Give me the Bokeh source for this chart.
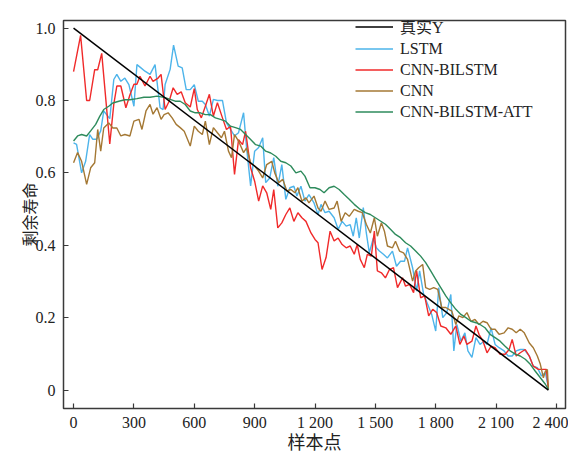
from bokeh.plotting import figure
from bokeh.models import Legend, LegendItem, FixedTicker, CustomJSTickFormatter, Range1d
from bokeh.embed import file_html
from bokeh.resources import INLINE

# ---- data ----
true_x = [0, 2360]
true_y = [1.0, 0.0]

lstm_x = [0, 15, 40, 60, 80, 95, 115, 135, 150, 180, 200, 215, 235, 255, 275, 300, 315, 335, 355, 380,
          405, 430, 445, 455, 480, 497, 520, 540, 560, 580, 600, 620, 640, 655, 675, 695, 715, 740, 760, 780,
          800, 820, 845, 860, 880, 900, 920, 940, 955, 975, 995, 1015, 1035, 1055, 1075, 1095, 1110, 1130, 1150, 1170,
          1195, 1215, 1230, 1250, 1270, 1295, 1315, 1335, 1355, 1375, 1390, 1405, 1420, 1440, 1455, 1470, 1490, 1505, 1520, 1540,
          1560, 1585, 1605, 1625, 1645, 1660, 1685, 1705, 1720, 1740, 1760, 1780, 1800, 1815, 1835, 1855, 1875, 1890, 1905, 1925,
          1945, 1960, 1980, 2000, 2020, 2040, 2055, 2075, 2095, 2115, 2140, 2160, 2180, 2200, 2220, 2240, 2265, 2285, 2305, 2325,
          2345, 2360]
lstm_y = [0.683, 0.679, 0.600, 0.632, 0.706, 0.693, 0.693, 0.716, 0.771, 0.750, 0.858, 0.872, 0.853, 0.862, 0.844, 0.784, 0.899, 0.890, 0.881, 0.872,
          0.899, 0.780, 0.775, 0.844, 0.886, 0.953, 0.895, 0.890, 0.830, 0.830, 0.844, 0.798, 0.798, 0.789, 0.757, 0.803, 0.800, 0.800, 0.738, 0.720,
          0.702, 0.711, 0.766, 0.669, 0.564, 0.660, 0.670, 0.697, 0.573, 0.586, 0.642, 0.563, 0.623, 0.527, 0.559, 0.563, 0.536, 0.563, 0.522, 0.540,
          0.517, 0.485, 0.513, 0.490, 0.494, 0.476, 0.444, 0.466, 0.453, 0.457, 0.425, 0.476, 0.420, 0.504, 0.434, 0.379, 0.420, 0.393, 0.384, 0.375,
          0.365, 0.384, 0.342, 0.356, 0.356, 0.393, 0.338, 0.273, 0.329, 0.264, 0.237, 0.209, 0.163, 0.283, 0.200, 0.214, 0.264, 0.108, 0.181, 0.135,
          0.158, 0.108, 0.090, 0.145, 0.126, 0.135, 0.126, 0.172, 0.126, 0.117, 0.108, 0.094, 0.094, 0.108, 0.112, 0.112, 0.094, 0.066, 0.062, 0.039,
          0.048, 0.007]

cnnbilstm_x = [0, 35, 65, 80, 105, 120, 140, 180, 200, 215, 235, 260, 280, 300, 315, 330, 355, 380, 395, 420,
               435, 455, 475, 495, 515, 535, 555, 580, 600, 615, 635, 655, 675, 695, 715, 740, 760, 780, 800, 820,
               840, 855, 880, 900, 920, 940, 960, 980, 995, 1015, 1035, 1055, 1075, 1095, 1115, 1135, 1155, 1180, 1200, 1215,
               1235, 1255, 1275, 1295, 1315, 1335, 1355, 1375, 1395, 1410, 1425, 1445, 1460, 1480, 1495, 1510, 1530, 1550, 1570, 1590,
               1610, 1635, 1650, 1670, 1690, 1705, 1725, 1745, 1765, 1785, 1805, 1825, 1850, 1875, 1900, 1920, 1940, 1955, 1980, 2000,
               2015, 2035, 2055, 2075, 2095, 2120, 2145, 2165, 2180, 2200, 2220, 2245, 2265, 2285, 2310, 2330, 2350, 2360]
cnnbilstm_y = [0.880, 0.980, 0.800, 0.800, 0.885, 0.885, 0.930, 0.680, 0.790, 0.840, 0.840, 0.780, 0.815, 0.845, 0.845, 0.867, 0.840, 0.867, 0.853, 0.862,
               0.872, 0.775, 0.798, 0.835, 0.817, 0.824, 0.794, 0.782, 0.833, 0.775, 0.752, 0.784, 0.817, 0.757, 0.794, 0.752, 0.720, 0.729, 0.596, 0.692,
               0.678, 0.715, 0.614, 0.577, 0.522, 0.564, 0.545, 0.499, 0.554, 0.448, 0.462, 0.485, 0.503, 0.466, 0.490, 0.476, 0.466, 0.434, 0.416, 0.407,
               0.333, 0.366, 0.439, 0.412, 0.420, 0.402, 0.393, 0.398, 0.375, 0.402, 0.361, 0.338, 0.375, 0.370, 0.439, 0.329, 0.324, 0.310, 0.333, 0.338,
               0.283, 0.310, 0.287, 0.292, 0.269, 0.329, 0.255, 0.260, 0.205, 0.223, 0.214, 0.177, 0.172, 0.154, 0.177, 0.126, 0.149, 0.126, 0.135, 0.177,
               0.154, 0.135, 0.103, 0.121, 0.117, 0.099, 0.099, 0.112, 0.140, 0.094, 0.103, 0.112, 0.094, 0.066, 0.057, 0.057, 0.057, 0.002]

cnn_x = [0, 20, 40, 65, 85, 105, 120, 135, 150, 175, 195, 215, 235, 255, 280, 300, 325, 340, 360, 380,
         395, 415, 435, 450, 470, 490, 510, 530, 550, 580, 600, 620, 640, 655, 675, 695, 715, 735, 750, 770,
         785, 800, 820, 845, 860, 880, 900, 920, 940, 960, 985, 1000, 1020, 1040, 1060, 1080, 1100, 1115, 1135, 1155,
         1170, 1195, 1215, 1230, 1250, 1270, 1295, 1310, 1330, 1350, 1370, 1395, 1415, 1435, 1455, 1475, 1495, 1510, 1530, 1545,
         1560, 1585, 1600, 1620, 1640, 1660, 1685, 1700, 1715, 1735, 1750, 1770, 1790, 1810, 1830, 1850, 1865, 1880, 1900, 1915,
         1935, 1955, 1975, 1995, 2015, 2035, 2055, 2075, 2095, 2115, 2140, 2160, 2180, 2200, 2220, 2240, 2265, 2285, 2305, 2320,
         2335, 2345, 2355, 2360]
cnn_y = [0.628, 0.656, 0.632, 0.568, 0.614, 0.628, 0.720, 0.660, 0.724, 0.738, 0.724, 0.724, 0.702, 0.706, 0.702, 0.743, 0.748, 0.720, 0.771, 0.789,
         0.762, 0.780, 0.748, 0.761, 0.766, 0.752, 0.734, 0.725, 0.715, 0.674, 0.729, 0.715, 0.706, 0.743, 0.678, 0.725, 0.711, 0.697, 0.715, 0.660,
         0.642, 0.706, 0.688, 0.656, 0.669, 0.628, 0.619, 0.605, 0.586, 0.623, 0.632, 0.600, 0.573, 0.582, 0.550, 0.554, 0.545, 0.559, 0.522, 0.531,
         0.517, 0.536, 0.503, 0.494, 0.522, 0.499, 0.503, 0.522, 0.466, 0.490, 0.480, 0.499, 0.494, 0.490, 0.458, 0.434, 0.476, 0.425, 0.462, 0.439,
         0.398, 0.393, 0.411, 0.384, 0.379, 0.361, 0.301, 0.329, 0.338, 0.347, 0.283, 0.278, 0.283, 0.278, 0.228, 0.228, 0.223, 0.218, 0.181, 0.205,
         0.200, 0.214, 0.190, 0.195, 0.181, 0.190, 0.186, 0.168, 0.168, 0.154, 0.158, 0.172, 0.168, 0.158, 0.168, 0.158, 0.130, 0.117, 0.094, 0.071,
         0.034, 0.052, 0.057, 0.002]

att_x = [0, 20, 40, 65, 85, 110, 130, 150, 175, 195, 225, 255, 280, 315, 350, 380, 415, 455, 480, 505,
         530, 555, 580, 605, 630, 655, 680, 705, 730, 755, 780, 805, 830, 855, 880, 905, 930, 955, 980, 1005,
         1030, 1055, 1080, 1105, 1130, 1150, 1175, 1200, 1225, 1245, 1270, 1295, 1320, 1345, 1370, 1395, 1425, 1450, 1475, 1500,
         1525, 1550, 1575, 1600, 1625, 1650, 1675, 1700, 1725, 1750, 1775, 1800, 1825, 1850, 1875, 1900, 1925, 1950, 1975, 2000,
         2020, 2045, 2070, 2095, 2120, 2145, 2170, 2195, 2220, 2245, 2270, 2295, 2320, 2345, 2360]
att_y = [0.688, 0.702, 0.706, 0.702, 0.716, 0.734, 0.756, 0.775, 0.784, 0.793, 0.798, 0.802, 0.802, 0.805, 0.809, 0.809, 0.812, 0.808, 0.803, 0.798,
         0.798, 0.789, 0.771, 0.766, 0.766, 0.761, 0.761, 0.752, 0.748, 0.743, 0.729, 0.725, 0.720, 0.706, 0.692, 0.678, 0.674, 0.660, 0.655, 0.646,
         0.632, 0.628, 0.619, 0.600, 0.605, 0.591, 0.559, 0.559, 0.554, 0.545, 0.559, 0.563, 0.554, 0.540, 0.527, 0.513, 0.499, 0.490, 0.485, 0.476,
         0.467, 0.458, 0.444, 0.430, 0.421, 0.407, 0.398, 0.384, 0.370, 0.352, 0.329, 0.306, 0.283, 0.260, 0.241, 0.223, 0.209, 0.200, 0.190, 0.186,
         0.181, 0.172, 0.154, 0.145, 0.135, 0.121, 0.108, 0.099, 0.094, 0.085, 0.071, 0.052, 0.034, 0.016, 0.002]

x_ticks = [0, 300, 600, 900, 1200, 1500, 1800, 2100, 2400]
y_ticks = [0, 0.2, 0.4, 0.6, 0.8, 1.0]
labels = ["真实Y", "LSTM", "CNN-BILSTM", "CNN", "CNN-BILSTM-ATT"]

SERIF = "'Liberation Serif', 'Noto Sans CJK SC'"
CJK = "Noto Sans CJK SC"

p = figure(width=568, height=456, output_backend="svg", toolbar_location=None,
           x_range=Range1d(-50, 2445), y_range=Range1d(-0.051, 1.021),
           min_border_left=63, min_border_right=3, min_border_top=20, min_border_bottom=48)
p.background_fill_color = "white"
p.border_fill_color = "white"
p.outline_line_color = "#3a3a3a"
p.outline_line_width = 1.5
p.xgrid.visible = False
p.ygrid.visible = False

r_lstm = p.line(lstm_x, lstm_y, line_color="#4DB4EA", line_width=1.4)
r_cb = p.line(cnnbilstm_x, cnnbilstm_y, line_color="#F02A2A", line_width=1.4)
r_cnn = p.line(cnn_x, cnn_y, line_color="#A47834", line_width=1.4)
r_att = p.line(att_x, att_y, line_color="#2E8B5C", line_width=1.4)
r_true = p.line(true_x, true_y, line_color="black", line_width=1.5)

for ax in (p.xaxis[0], p.yaxis[0]):
    ax.axis_line_color = None
    ax.major_tick_in = 5
    ax.major_tick_out = 0
    ax.minor_tick_line_color = None
    ax.major_tick_line_color = "#3a3a3a"
    ax.major_tick_line_width = 1.2
    ax.major_label_text_font = SERIF
    ax.major_label_text_font_size = "16px"
    ax.major_label_text_color = "#222222"
    ax.axis_label_text_font_style = "normal"
    ax.axis_label_text_color = "#222222"
    ax.axis_label_text_font = CJK

p.xaxis.ticker = FixedTicker(ticks=x_ticks)
p.yaxis.ticker = FixedTicker(ticks=y_ticks)
p.xaxis.formatter = CustomJSTickFormatter(code="""
    const t = Math.round(tick);
    if (t >= 1000) { return Math.floor(t/1000) + " " + String(t % 1000).padStart(3, "0"); }
    return String(t);
""")
p.yaxis.formatter = CustomJSTickFormatter(code="""
    return Math.abs(tick) < 1e-9 ? "0" : tick.toFixed(1);
""")
p.xaxis.axis_label = "样本点"
p.yaxis.axis_label = "剩余寿命"
p.xaxis.axis_label_text_font_size = "18px"
p.yaxis.axis_label_text_font_size = "16px"
p.xaxis.major_label_standoff = 5
p.yaxis.major_label_standoff = 8
p.xaxis.axis_label_standoff = -6
p.yaxis.axis_label_standoff = -8

legend = Legend(items=[
    LegendItem(label=labels[0], renderers=[r_true]),
    LegendItem(label=labels[1], renderers=[r_lstm]),
    LegendItem(label=labels[2], renderers=[r_cb]),
    LegendItem(label=labels[3], renderers=[r_cnn]),
    LegendItem(label=labels[4], renderers=[r_att]),
], location=(292, 286))
legend.padding = 0
legend.margin = 0
legend.spacing = 0
legend.label_height = 21
legend.glyph_height = 21
legend.glyph_width = 38
legend.label_standoff = 7
legend.border_line_alpha = 0
legend.background_fill_alpha = 0
legend.label_text_font = SERIF
legend.label_text_font_size = "16px"
legend.label_text_color = "#222222"
p.add_layout(legend)

open("out.html", "w").write(file_html(p, INLINE))
